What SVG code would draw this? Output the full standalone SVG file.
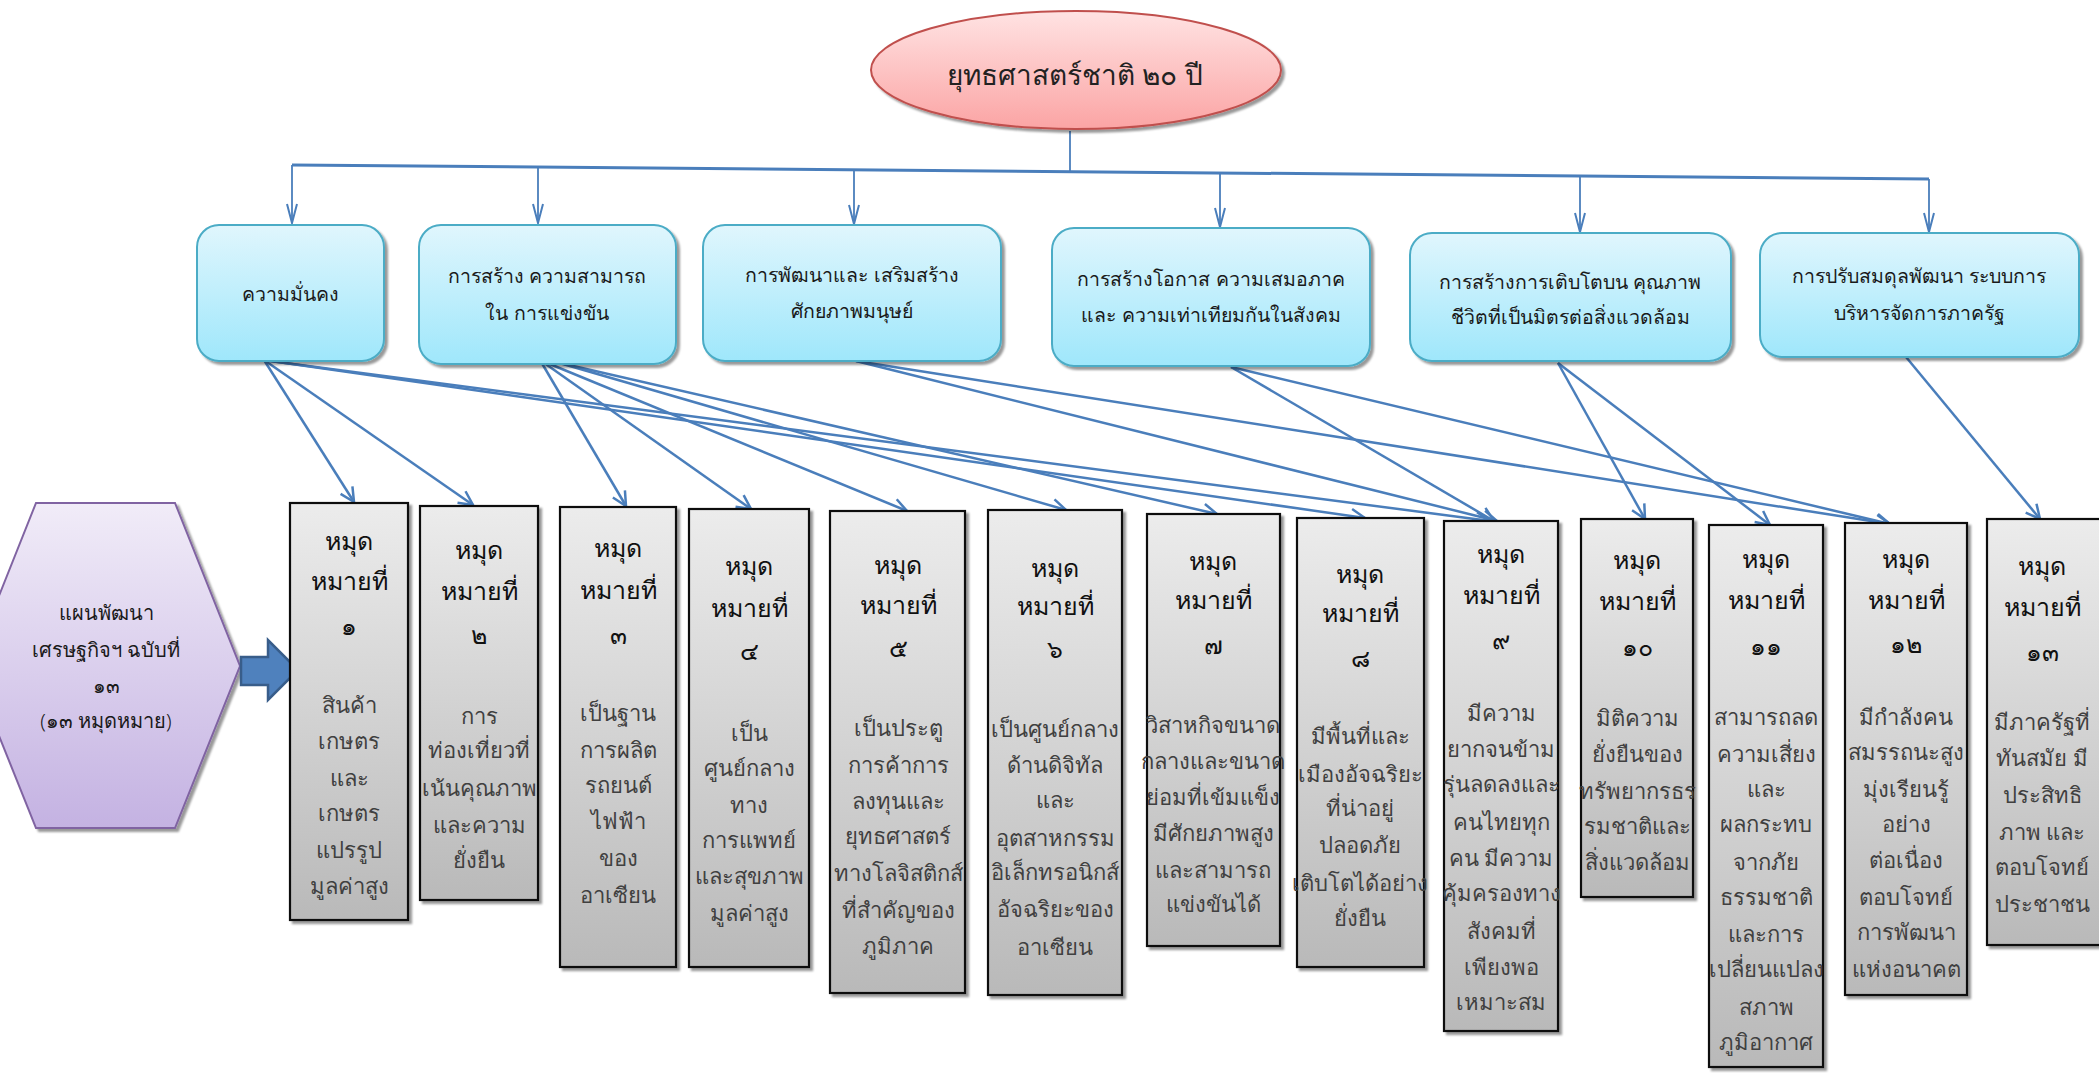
<svg xmlns="http://www.w3.org/2000/svg" width="2099" height="1073" viewBox="0 0 2099 1073">
<defs>
  <linearGradient id="gPink" x1="0" y1="0" x2="0" y2="1">
    <stop offset="0" stop-color="#ffe3e3"/>
    <stop offset="1" stop-color="#fba4a4"/>
  </linearGradient>
  <linearGradient id="gCyan" x1="0" y1="0" x2="0" y2="1">
    <stop offset="0" stop-color="#e0f6fd"/>
    <stop offset="1" stop-color="#9fe7fb"/>
  </linearGradient>
  <linearGradient id="gGray" x1="0" y1="0" x2="0" y2="1">
    <stop offset="0" stop-color="#ececec"/>
    <stop offset="1" stop-color="#b9b9b9"/>
  </linearGradient>
  <linearGradient id="gLav" x1="0" y1="0" x2="0" y2="1">
    <stop offset="0" stop-color="#f1ecf8"/>
    <stop offset="1" stop-color="#c4b2e2"/>
  </linearGradient>
  <filter id="sh" x="-10%" y="-10%" width="130%" height="130%">
    <feDropShadow dx="3" dy="3" stdDeviation="1.2" flood-color="#000" flood-opacity="0.4"/>
  </filter>
  <marker id="arr" viewBox="0 0 18 18" refX="16" refY="9" markerWidth="18" markerHeight="18" markerUnits="userSpaceOnUse" orient="auto">
    <path d="M2,2 L16,9 L2,16" fill="none" stroke="#4a7ebb" stroke-width="2.5"/>
  </marker>
  <marker id="arrT" viewBox="0 0 22 14" refX="20" refY="7" markerWidth="22" markerHeight="14" markerUnits="userSpaceOnUse" orient="auto">
    <path d="M1,2 L20,7 L1,12" fill="none" stroke="#4a7ebb" stroke-width="2"/>
  </marker>
</defs>
<style>
  text { font-family: "Noto Sans", sans-serif; text-anchor: middle; font-weight: 300; }
  .conn { stroke: #4a7ebb; stroke-width: 2.5; fill: none; marker-end: url(#arr); }
  .tconn { stroke: #4a7ebb; stroke-width: 1.8; fill: none; marker-end: url(#arrT); }
  .cyan { fill: url(#gCyan); stroke: #4bacc6; stroke-width: 2; filter: url(#sh); }
  .gray { fill: url(#gGray); stroke: #111; stroke-width: 2.2; filter: url(#sh); }
  .tb { font-size: 19.5px; fill: #1a1a1a; }
  .hd { font-size: 25px; fill: #111; }
  .ds { font-size: 22px; fill: #404040; }
  .hx { font-size: 20px; fill: #1a1a1a; }
</style>
<rect width="2099" height="1073" fill="#ffffff"/>

<g id="connectors">
  <line x1="1070" y1="131" x2="1070" y2="172" stroke="#4a7ebb" stroke-width="1.8"/>
  <line x1="292" y1="165" x2="1929" y2="179" stroke="#4a7ebb" stroke-width="3"/>
  <line class="tconn" x1="292" y1="165" x2="292" y2="223"/>
  <line class="tconn" x1="538" y1="167" x2="538" y2="223"/>
  <line class="tconn" x1="854" y1="170" x2="854" y2="224"/>
  <line class="tconn" x1="1220" y1="173" x2="1220" y2="227"/>
  <line class="tconn" x1="1580" y1="176" x2="1580" y2="232"/>
  <line class="tconn" x1="1929" y1="179" x2="1929" y2="232"/>

  <line class="conn" x1="264" y1="360" x2="354" y2="502"/>
  <line class="conn" x1="264" y1="360" x2="473" y2="505"/>
  <line class="conn" x1="264" y1="360" x2="1365" y2="518"/>
  <line class="conn" x1="270" y1="361" x2="1490" y2="521"/>
  <line class="conn" x1="540" y1="360" x2="626" y2="506"/>
  <line class="conn" x1="540" y1="360" x2="751" y2="509"/>
  <line class="conn" x1="540" y1="360" x2="907" y2="511"/>
  <line class="conn" x1="556" y1="362" x2="1066" y2="510"/>
  <line class="conn" x1="556" y1="362" x2="1217" y2="514"/>
  <line class="conn" x1="856" y1="361" x2="1497" y2="521"/>
  <line class="conn" x1="856" y1="361" x2="1890" y2="524"/>
  <line class="conn" x1="1231" y1="367" x2="1494" y2="521"/>
  <line class="conn" x1="1231" y1="367" x2="1890" y2="524"/>
  <line class="conn" x1="1558" y1="363" x2="1645" y2="519"/>
  <line class="conn" x1="1558" y1="363" x2="1770" y2="525"/>
  <line class="conn" x1="1906" y1="357" x2="2040" y2="519"/>
</g>

<g id="root">
  <ellipse cx="1076" cy="70" rx="205" ry="59" fill="url(#gPink)" stroke="#c0504d" stroke-width="2" filter="url(#sh)"/>
  <text x="1075" y="85" style="font-size:28px;fill:#222">ยุทธศาสตร์ชาติ ๒๐ ปี</text>
</g>

<g id="s1">
  <rect class="cyan" x="197" y="225" width="187" height="136" rx="22"/>
  <text class="tb" x="290" y="301">ความมั่นคง</text>
</g>
<g id="s2">
  <rect class="cyan" x="419" y="225" width="257" height="139" rx="22"/>
  <text class="tb"><tspan x="547" y="283">การสร้าง ความสามารถ</tspan><tspan x="547" y="320">ใน การแข่งขัน</tspan></text>
</g>
<g id="s3">
  <rect class="cyan" x="703" y="225" width="298" height="136" rx="22"/>
  <text class="tb"><tspan x="852" y="282">การพัฒนาและ เสริมสร้าง</tspan><tspan x="852" y="318">ศักยภาพมนุษย์</tspan></text>
</g>
<g id="s4">
  <rect class="cyan" x="1052" y="228" width="318" height="138" rx="22"/>
  <text class="tb"><tspan x="1211" y="286">การสร้างโอกาส ความเสมอภาค</tspan><tspan x="1211" y="322">และ ความเท่าเทียมกันในสังคม</tspan></text>
</g>
<g id="s5">
  <rect class="cyan" x="1410" y="233" width="321" height="128" rx="22"/>
  <text class="tb"><tspan x="1570" y="289">การสร้างการเติบโตบน คุณภาพ</tspan><tspan x="1570" y="324">ชีวิตที่เป็นมิตรต่อสิ่งแวดล้อม</tspan></text>
</g>
<g id="s6">
  <rect class="cyan" x="1760" y="233" width="319" height="124" rx="22"/>
  <text class="tb"><tspan x="1919" y="283">การปรับสมดุลพัฒนา ระบบการ</tspan><tspan x="1919" y="320">บริหารจัดการภาครัฐ</tspan></text>
</g>

<g id="plan">
  <polygon points="36,503 175,503 240,666 175,828 36,828 -29,666" fill="url(#gLav)" stroke="#8064a2" stroke-width="2" filter="url(#sh)"/>
  <text class="hx"><tspan x="106" y="620">แผนพัฒนา</tspan><tspan x="106" y="657">เศรษฐกิจฯ ฉบับที่</tspan><tspan x="106" y="693">๑๓</tspan><tspan x="106" y="728">(๑๓ หมุดหมาย)</tspan></text>
</g>

<g id="bigarrow">
  <polygon points="241,657 268,657 268,640 298,670 268,700 268,685 241,685" fill="#4f81bd" stroke="#385d8a" stroke-width="2.5"/>
</g>

<g id="m1">
  <rect class="gray" x="290" y="503" width="118" height="417"/>
  <text class="hd"><tspan x="349" y="550">หมุด</tspan><tspan x="349" y="590">หมายที่</tspan><tspan x="349" y="635">๑</tspan></text>
  <text class="ds"><tspan x="349" y="713">สินค้า</tspan><tspan x="349" y="749">เกษตร</tspan><tspan x="349" y="786">และ</tspan><tspan x="349" y="821">เกษตร</tspan><tspan x="349" y="858">แปรรูป</tspan><tspan x="349" y="894">มูลค่าสูง</tspan></text>
</g>
<g id="m2">
  <rect class="gray" x="420" y="506" width="118" height="394"/>
  <text class="hd"><tspan x="479" y="559">หมุด</tspan><tspan x="479" y="600">หมายที่</tspan><tspan x="479" y="644">๒</tspan></text>
  <text class="ds"><tspan x="479" y="724">การ</tspan><tspan x="479" y="758">ท่องเที่ยวที่</tspan><tspan x="479" y="796">เน้นคุณภาพ</tspan><tspan x="479" y="833">และความ</tspan><tspan x="479" y="868">ยั่งยืน</tspan></text>
</g>
<g id="m3">
  <rect class="gray" x="560" y="507" width="116" height="460"/>
  <text class="hd"><tspan x="618" y="557">หมุด</tspan><tspan x="618" y="599">หมายที่</tspan><tspan x="618" y="644">๓</tspan></text>
  <text class="ds"><tspan x="618" y="721">เป็นฐาน</tspan><tspan x="618" y="758">การผลิต</tspan><tspan x="618" y="793">รถยนต์</tspan><tspan x="618" y="829">ไฟฟ้า</tspan><tspan x="618" y="866">ของ</tspan><tspan x="618" y="903">อาเซียน</tspan></text>
</g>
<g id="m4">
  <rect class="gray" x="689" y="509" width="120" height="458"/>
  <text class="hd"><tspan x="749" y="575">หมุด</tspan><tspan x="749" y="617">หมายที่</tspan><tspan x="749" y="660">๔</tspan></text>
  <text class="ds"><tspan x="749" y="741">เป็น</tspan><tspan x="749" y="776">ศูนย์กลาง</tspan><tspan x="749" y="813">ทาง</tspan><tspan x="749" y="848">การแพทย์</tspan><tspan x="749" y="884">และสุขภาพ</tspan><tspan x="749" y="921">มูลค่าสูง</tspan></text>
</g>
<g id="m5">
  <rect class="gray" x="830" y="511" width="135" height="482"/>
  <text class="hd"><tspan x="898" y="574">หมุด</tspan><tspan x="898" y="614">หมายที่</tspan><tspan x="898" y="657">๕</tspan></text>
  <text class="ds"><tspan x="898" y="736">เป็นประตู</tspan><tspan x="898" y="773">การค้าการ</tspan><tspan x="898" y="809">ลงทุนและ</tspan><tspan x="898" y="844">ยุทธศาสตร์</tspan><tspan x="898" y="881">ทางโลจิสติกส์</tspan><tspan x="898" y="918">ที่สำคัญของ</tspan><tspan x="898" y="954">ภูมิภาค</tspan></text>
</g>
<g id="m6">
  <rect class="gray" x="988" y="510" width="134" height="485"/>
  <text class="hd"><tspan x="1055" y="577">หมุด</tspan><tspan x="1055" y="615">หมายที่</tspan><tspan x="1055" y="658">๖</tspan></text>
  <text class="ds"><tspan x="1055" y="737">เป็นศูนย์กลาง</tspan><tspan x="1055" y="773">ด้านดิจิทัล</tspan><tspan x="1055" y="808">และ</tspan><tspan x="1055" y="846">อุตสาหกรรม</tspan><tspan x="1055" y="880">อิเล็กทรอนิกส์</tspan><tspan x="1055" y="917">อัจฉริยะของ</tspan><tspan x="1055" y="955">อาเซียน</tspan></text>
</g>
<g id="m7">
  <rect class="gray" x="1147" y="514" width="133" height="432"/>
  <text class="hd"><tspan x="1213" y="570">หมุด</tspan><tspan x="1213" y="609">หมายที่</tspan><tspan x="1213" y="654">๗</tspan></text>
  <text class="ds"><tspan x="1213" y="733">วิสาหกิจขนาด</tspan><tspan x="1213" y="769">กลางและขนาด</tspan><tspan x="1213" y="805">ย่อมที่เข้มแข็ง</tspan><tspan x="1213" y="841">มีศักยภาพสูง</tspan><tspan x="1213" y="878">และสามารถ</tspan><tspan x="1213" y="912">แข่งขันได้</tspan></text>
</g>
<g id="m8">
  <rect class="gray" x="1297" y="518" width="127" height="449"/>
  <text class="hd"><tspan x="1360" y="583">หมุด</tspan><tspan x="1360" y="622">หมายที่</tspan><tspan x="1360" y="667">๘</tspan></text>
  <text class="ds"><tspan x="1360" y="744">มีพื้นที่และ</tspan><tspan x="1360" y="782">เมืองอัจฉริยะ</tspan><tspan x="1360" y="816">ที่น่าอยู่</tspan><tspan x="1360" y="853">ปลอดภัย</tspan><tspan x="1360" y="891">เติบโตได้อย่าง</tspan><tspan x="1360" y="926">ยั่งยืน</tspan></text>
</g>
<g id="m9">
  <rect class="gray" x="1444" y="521" width="114" height="510"/>
  <text class="hd"><tspan x="1501" y="563">หมุด</tspan><tspan x="1501" y="604">หมายที่</tspan><tspan x="1501" y="649">๙</tspan></text>
  <text class="ds"><tspan x="1501" y="721">มีความ</tspan><tspan x="1501" y="757">ยากจนข้าม</tspan><tspan x="1501" y="792">รุ่นลดลงและ</tspan><tspan x="1501" y="830">คนไทยทุก</tspan><tspan x="1501" y="866">คน มีความ</tspan><tspan x="1501" y="901">คุ้มครองทาง</tspan><tspan x="1501" y="939">สังคมที่</tspan><tspan x="1501" y="975">เพียงพอ</tspan><tspan x="1501" y="1010">เหมาะสม</tspan></text>
</g>
<g id="m10">
  <rect class="gray" x="1581" y="519" width="112" height="378"/>
  <text class="hd"><tspan x="1637" y="569">หมุด</tspan><tspan x="1637" y="610">หมายที่</tspan><tspan x="1637" y="656">๑๐</tspan></text>
  <text class="ds"><tspan x="1637" y="726">มิติความ</tspan><tspan x="1637" y="762">ยั่งยืนของ</tspan><tspan x="1637" y="799">ทรัพยากรธร</tspan><tspan x="1637" y="834">รมชาติและ</tspan><tspan x="1637" y="870">สิ่งแวดล้อม</tspan></text>
</g>
<g id="m11">
  <rect class="gray" x="1709" y="525" width="114" height="542"/>
  <text class="hd"><tspan x="1766" y="568">หมุด</tspan><tspan x="1766" y="609">หมายที่</tspan><tspan x="1766" y="655">๑๑</tspan></text>
  <text class="ds"><tspan x="1766" y="725">สามารถลด</tspan><tspan x="1766" y="762">ความเสี่ยง</tspan><tspan x="1766" y="797">และ</tspan><tspan x="1766" y="832">ผลกระทบ</tspan><tspan x="1766" y="870">จากภัย</tspan><tspan x="1766" y="905">ธรรมชาติ</tspan><tspan x="1766" y="942">และการ</tspan><tspan x="1766" y="977">เปลี่ยนแปลง</tspan><tspan x="1766" y="1015">สภาพ</tspan><tspan x="1766" y="1050">ภูมิอากาศ</tspan></text>
</g>
<g id="m12">
  <rect class="gray" x="1845" y="523" width="122" height="472"/>
  <text class="hd"><tspan x="1906" y="568">หมุด</tspan><tspan x="1906" y="609">หมายที่</tspan><tspan x="1906" y="653">๑๒</tspan></text>
  <text class="ds"><tspan x="1906" y="725">มีกำลังคน</tspan><tspan x="1906" y="760">สมรรถนะสูง</tspan><tspan x="1906" y="797">มุ่งเรียนรู้</tspan><tspan x="1906" y="832">อย่าง</tspan><tspan x="1906" y="868">ต่อเนื่อง</tspan><tspan x="1906" y="905">ตอบโจทย์</tspan><tspan x="1906" y="940">การพัฒนา</tspan><tspan x="1906" y="977">แห่งอนาคต</tspan></text>
</g>
<g id="m13">
  <rect class="gray" x="1987" y="519" width="114" height="426"/>
  <text class="hd"><tspan x="2042" y="575">หมุด</tspan><tspan x="2042" y="616">หมายที่</tspan><tspan x="2042" y="661">๑๓</tspan></text>
  <text class="ds"><tspan x="2042" y="730">มีภาครัฐที่</tspan><tspan x="2042" y="766">ทันสมัย มี</tspan><tspan x="2042" y="803">ประสิทธิ</tspan><tspan x="2042" y="840">ภาพ และ</tspan><tspan x="2042" y="875">ตอบโจทย์</tspan><tspan x="2042" y="912">ประชาชน</tspan></text>
</g>
</svg>
